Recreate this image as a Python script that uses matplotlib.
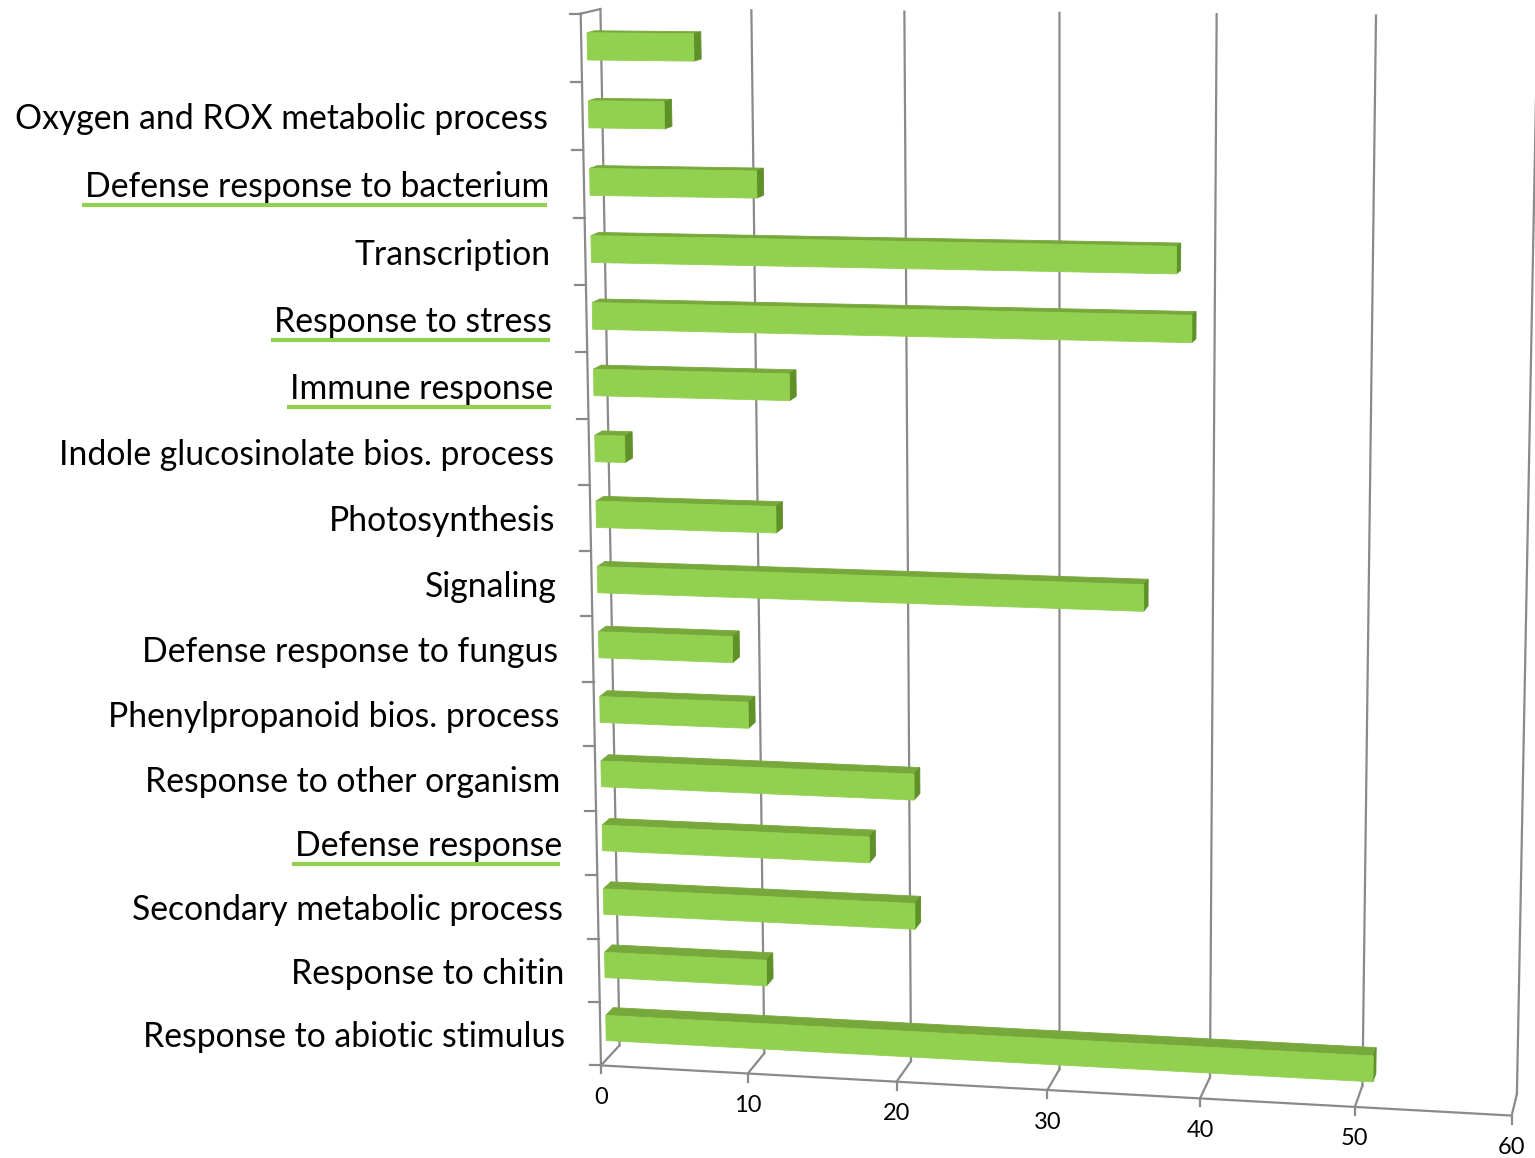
import numpy as np
import matplotlib
matplotlib.use('Agg')
import matplotlib.pyplot as plt
import matplotlib.transforms as mtransforms

# categories from top to bottom (the first one has no label in the source)
categories = ['', 'Oxygen and ROX metabolic process', 'Defense response to bacterium',
              'Transcription', 'Response to stress', 'Immune response',
              'Indole glucosinolate bios. process', 'Photosynthesis', 'Signaling',
              'Defense response to fungus', 'Phenylpropanoid bios. process',
              'Response to other organism', 'Defense response',
              'Secondary metabolic process', 'Response to chitin',
              'Response to abiotic stimulus']
values = [7, 5, 11, 38, 39, 13, 2, 12, 36, 9, 10, 21, 18, 21, 11, 51]
underlined = ['Defense response to bacterium', 'Response to stress',
              'Immune response', 'Defense response']
x_ticks = [0, 10, 20, 30, 40, 50, 60]

W, H = 1535, 1158
XMAX, NCAT = 60, len(categories)
ZF, ZB = 0.3, 0.7          # depth of bar front / back (0 = front, 1 = back wall)
BAR_H = 0.4

FRONT, TOP, RIGHT, BOTTOM, LEFT = '#92D050', '#77A83B', '#5F9128', '#A8DA72', '#6E9E33'
GRID = '#8A8A8A'

# where the corners of the 3d box land on the picture (value, category, depth) -> pixel
frame_world = [(0, 16, 1), (10, 16, 1), (20, 16, 1), (30, 16, 1), (40, 16, 1), (50, 16, 1),
               (0, 0, 1), (10, 0, 1), (20, 0, 1), (30, 0, 1), (40, 0, 1), (50, 0, 1), (60, 0, 1),
               (0, 16, 0), (0, 8, 0), (0, 0, 0), (10, 0, 0), (20, 0, 0), (30, 0, 0),
               (40, 0, 0), (50, 0, 0), (60, 0, 0)]
frame_pix = [(600, 9), (752, 11), (904, 12), (1059, 13), (1217, 14), (1376, 15),
             (619, 1047), (764, 1052), (911, 1059), (1060, 1068), (1211, 1077), (1362, 1085), (1517, 1097),
             (581, 13), (591, 551), (601, 1067), (748, 1073), (897, 1082), (1047, 1090),
             (1200, 1098), (1355, 1107), (1511, 1115)]

# fit a pinhole camera (DLT)
wn = np.array(frame_world, float) / [XMAX, NCAT, 1]
pn = np.array(frame_pix, float) / 1000
rows = []
for (X, Y, Z), (u, v) in zip(wn, pn):
    rows.append([X, Y, Z, 1, 0, 0, 0, 0, -u * X, -u * Y, -u * Z, -u])
    rows.append([0, 0, 0, 0, X, Y, Z, 1, -v * X, -v * Y, -v * Z, -v])
P = np.linalg.svd(np.array(rows))[2][-1].reshape(3, 4)


def project(x, y, z):
    x, y, z = np.broadcast_arrays(np.asarray(x, float) / XMAX,
                                  np.asarray(y, float) / NCAT, np.asarray(z, float))
    h = P @ np.vstack([x.ravel(), y.ravel(), z.ravel(), np.ones(x.size)])
    return (h[:2] / h[2]).T * 1000


class Plane(mtransforms.Transform):
    """(value, category) on the plane at a fixed depth -> picture pixels"""
    input_dims = output_dims = 2

    def __init__(self, z):
        super().__init__()
        self.z = z

    def transform_non_affine(self, values):
        v = np.asarray(values, float).reshape(-1, 2)
        return project(v[:, 0], v[:, 1], self.z)


def area(p):
    return 0.5 * np.sum(p[:, 0] * np.roll(p[:, 1], -1) - np.roll(p[:, 0], -1) * p[:, 1])


plt.rcParams['font.family'] = ['Lato', 'DejaVu Sans']
fig = plt.figure(figsize=(W / 100, H / 100), dpi=100)
ax = fig.add_axes([0, 0, 1, 1])
ax.set_xlim(0, W)
ax.set_ylim(H, 0)
ax.axis('off')

# walls / floor
for v in x_ticks:
    p = project([v, v], [0, NCAT], 1)
    ax.plot(p[:, 0], p[:, 1], color=GRID, lw=1.6, zorder=1)
    p = project([v, v], [0, 0], [0, 1])
    ax.plot(p[:, 0], p[:, 1], color=GRID, lw=1.6, zorder=1)
    p = project(v, 0, 0)[0]
    ax.plot([p[0], p[0]], [p[1], p[1] + 8], color=GRID, lw=1.6, zorder=1)
    ax.text(p[0], p[1] + 32, str(v), ha='center', va='center', fontsize=17, color='black')
p = project([0, XMAX], [0, 0], 0)
ax.plot(p[:, 0], p[:, 1], color=GRID, lw=1.6, zorder=1)
p = project([0, 0], [0, NCAT], 0)
ax.plot(p[:, 0], p[:, 1], color=GRID, lw=1.6, zorder=1)
p = project([0, 0], [NCAT, NCAT], [0, 1])
ax.plot(p[:, 0], p[:, 1], color=GRID, lw=1.6, zorder=1)
for k in range(NCAT + 1):
    p = project(0, k, 0)[0]
    ax.plot([p[0] - 11, p[0]], [p[1], p[1]], color=GRID, lw=1.6, zorder=1)

# bars
ypos = [NCAT - i - 0.5 for i in range(NCAT)]
colors = {'top': TOP, 'right': RIGHT, 'bottom': BOTTOM, 'left': LEFT}
for yc, val in zip(ypos, values):
    x0, x1, y0, y1 = 0, val, yc - BAR_H / 2, yc + BAR_H / 2
    faces = {
        'front': [(x0, y0, ZF), (x1, y0, ZF), (x1, y1, ZF), (x0, y1, ZF)],
        'right': [(x1, y0, ZF), (x1, y0, ZB), (x1, y1, ZB), (x1, y1, ZF)],
        'top': [(x0, y1, ZF), (x1, y1, ZF), (x1, y1, ZB), (x0, y1, ZB)],
        'bottom': [(x1, y0, ZF), (x0, y0, ZF), (x0, y0, ZB), (x1, y0, ZB)],
        'left': [(x0, y0, ZB), (x0, y0, ZF), (x0, y1, ZF), (x0, y1, ZB)],
    }
    proj = {k: project(*np.array(f).T) for k, f in faces.items()}
    sign = np.sign(area(proj['front']))
    for k in ['bottom', 'left', 'top', 'right']:
        if np.sign(area(proj[k])) == sign:
            ax.fill(proj[k][:, 0], proj[k][:, 1], color=colors[k], lw=0.6, zorder=3)

ax.barh(ypos, values, height=BAR_H, left=0, color=FRONT, edgecolor=FRONT, lw=0.6,
        transform=Plane(ZF) + ax.transData, zorder=4)

# category labels, sized so the longest matches the source
renderer = fig.canvas.get_renderer()
probe = ax.text(0, 0, categories[1], fontsize=20)
size = 20 * 534 / probe.get_window_extent(renderer).width
probe.remove()
for yc, name in zip(ypos, categories):
    p = project(0, yc, 0)[0]
    t = ax.text(p[0] - 35, p[1] + 3, name, ha='right', va='center', fontsize=size, color='black')
    if name in underlined:
        bb = t.get_window_extent(renderer)
        ax.plot([bb.x0 - 3, bb.x1 - 2], [p[1] + 21, p[1] + 21], color=FRONT, lw=3,
                solid_capstyle='butt', zorder=2)

fig.savefig('out.png', dpi=100)
